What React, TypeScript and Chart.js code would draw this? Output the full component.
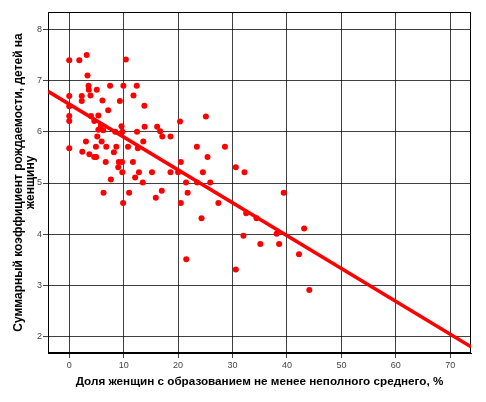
import { useEffect, useRef } from "react";
import { Chart, registerables } from "chart.js";

Chart.register(...registerables);

const xValues = [
  0, 1.85, 3.2, 10.4, 3.35, 3.55, 3.6, 0, 2.3, 2.3,
  3.9, 5.05, 7.5, 9.95, 12.4, 6.1, 9.3, 11.8, 0, 13.8,
  7.15, 0, 0, 4.0, 5.35, 4.6, 5.8, 5.35, 6.25, 5.15,
  8.45, 9.6, 9.75, 12.45, 13.85, 16.15, 16.7, 17.1, 18.6, 20.35,
  25.1, 0, 3.07, 2.4, 3.7, 4.6, 4.95, 4.9, 5.95, 6.8,
  8.65, 8.2, 10.8, 12.6, 13.6, 23.45, 28.6, 25.4, 6.7, 9.1,
  9.7, 9.0, 11.7, 20.5, 9.75, 12.1, 12.8, 15.2, 18.6, 20.0,
  24.55, 30.6, 32.2, 7.65, 13.5, 21.45, 23.5, 25.9, 6.3, 11.0,
  9.9, 15.9, 17.0, 21.75, 20.5, 27.4, 24.3, 32.5, 34.4, 32.0,
  35.1, 21.5, 30.6, 39.4, 43.15, 38.1, 38.55, 42.2, 44.1,
];
const yValues = [
  7.4, 7.4, 7.5, 7.41, 7.1, 6.9, 6.82, 6.7, 6.7, 6.6,
  6.71, 6.82, 6.9, 6.9, 6.9, 6.61, 6.6, 6.71, 6.5, 6.51,
  6.42, 6.31, 6.21, 6.31, 6.32, 6.21, 6.12, 6.04, 6.03, 5.91,
  6.0, 6.11, 6.0, 6.0, 6.1, 6.1, 6.01, 5.91, 5.91, 6.2,
  6.3, 5.68, 5.81, 5.61, 5.56, 5.51, 5.51, 5.71, 5.81, 5.71,
  5.71, 5.6, 5.71, 5.68, 5.81, 5.71, 5.71, 5.51, 5.41, 5.41,
  5.41, 5.31, 5.41, 5.41, 5.21, 5.11, 5.21, 5.21, 5.21, 5.21,
  5.21, 5.31, 5.21, 5.07, 5.01, 5.01, 5.01, 5.01, 4.81, 4.81,
  4.61, 4.71, 4.85, 4.81, 4.61, 4.61, 4.31, 4.41, 4.31, 3.97,
  3.81, 3.51, 3.31, 4.81, 4.11, 4.01, 3.81, 3.61, 2.91,
];
const fitX = [-3.9, 73.8];
const fitY = [6.79, 1.8];
const xTicks = [0, 10, 20, 30, 40, 50, 60, 70];
const yTicks = [2, 3, 4, 5, 6, 7, 8];
const xTitle = "Доля женщин с образованием не менее неполного среднего, %";
const yTitle = ["Суммарный коэффициент рождаемости, детей на", "женщину"];

const FONT = "'Liberation Sans', Arial, sans-serif";

const framePlugin = {
  id: "frame",
  beforeDatasetsDraw(chart: any) {
    const { ctx, chartArea } = chart;
    const l = Math.round(chartArea.left) + 0.5;
    const t = Math.round(chartArea.top) + 0.5;
    const r = Math.round(chartArea.right) - 0.5;
    const b = Math.round(chartArea.bottom) - 0.5;
    ctx.save();
    ctx.strokeStyle = "#000";
    ctx.lineWidth = 1;
    ctx.strokeRect(l, t, r - l, b - t);
    ctx.restore();
  },
};

export default function App() {
  const ref = useRef<HTMLCanvasElement | null>(null);

  useEffect(() => {
    if (!ref.current) return;
    const points = xValues.map((x, i) => ({ x, y: yValues[i] }));
    const fit = fitX.map((x, i) => ({ x, y: fitY[i] }));
    const chart = new Chart(ref.current, {
      type: "scatter",
      data: {
        datasets: [
          {
            type: "line",
            data: fit,
            borderColor: "#ff0000",
            borderWidth: 3.5,
            pointRadius: 0,
            fill: false,
            order: 1,
          } as any,
          {
            data: points,
            backgroundColor: "#ff0000",
            borderWidth: 0,
            pointRadius: 3,
            order: 2,
          },
        ],
      },
      options: {
        animation: false,
        responsive: false,
        devicePixelRatio: 1,
        layout: { padding: { top: 12, right: 15, left: 0, bottom: 0 } },
        plugins: {
          legend: { display: false },
          tooltip: { enabled: false },
        },
        scales: {
          x: {
            type: "linear",
            min: -3.9,
            max: 73.8,
            afterBuildTicks: (scale: any) => {
              scale.ticks = xTicks.map((v) => ({ value: v }));
            },
            afterFit: (scale: any) => {
              scale.height = 49;
            },
            grid: {
              color: "rgba(0,0,0,0.75)",
              lineWidth: 1,
              tickLength: 5,
            },
            border: { color: "#000", width: 1 },
            ticks: {
              color: "#444",
              font: { family: FONT, size: 9 },
              padding: 2,
              maxRotation: 0,
            },
            title: {
              display: true,
              text: xTitle,
              color: "#000",
              font: { family: FONT, size: 11.7, weight: "bold", lineHeight: 1 },
              padding: { top: 0, bottom: 14 },
            },
          },
          y: {
            type: "linear",
            min: 1.68,
            max: 8.34,
            afterBuildTicks: (scale: any) => {
              scale.ticks = yTicks.map((v) => ({ value: v }));
            },
            afterFit: (scale: any) => {
              scale.width = 48;
            },
            grid: {
              color: "rgba(0,0,0,0.75)",
              lineWidth: 1,
              tickLength: 5,
            },
            border: { color: "#000", width: 1 },
            ticks: {
              color: "#444",
              font: { family: FONT, size: 9 },
              padding: 1,
            },
            title: {
              display: true,
              text: yTitle,
              color: "#000",
              font: { family: FONT, size: 12, weight: "bold", lineHeight: 1 },
              padding: { top: 13, bottom: 0 },
            },
          },
        },
      },
      plugins: [framePlugin],
    });
    return () => chart.destroy();
  }, []);

  return (
    <div style={{ position: "absolute", left: 0, top: 0, width: 486, height: 402, background: "#fff" }}>
      <canvas ref={ref} width={486} height={402} style={{ width: 486, height: 402 }} />
    </div>
  );
}
